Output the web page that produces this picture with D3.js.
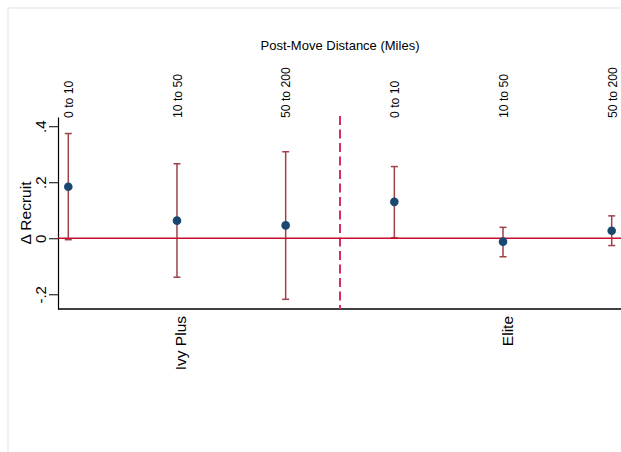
<!DOCTYPE html>
<html>
<head>
<meta charset="utf-8">
<script src="https://cdn.jsdelivr.net/npm/d3@7"></script>
<style>
  html, body { margin: 0; padding: 0; background: #fff; }
  svg { display: block; font-family: "Liberation Sans", Arial, sans-serif; }
</style>
</head>
<body>
<svg id="chart" width="621" height="452"></svg>
<script>
// Estimates by school group and post-move distance band
const groups = ["Ivy Plus", "Elite"];
const distanceBands = ["0 to 10", "10 to 50", "50 to 200"];
const estimates = [0.184, 0.063, 0.046, 0.130, -0.012, 0.027];
const ciLow  = [-0.005, -0.139, -0.218, 0.002, -0.066, -0.026];
const ciHigh = [0.374, 0.266, 0.309, 0.256, 0.039, 0.080];
const yTicks = [-0.2, 0, 0.2, 0.4];
const yTickLabels = ["-.2", "0", ".2", ".4"];

const rows = [];
groups.forEach((g, gi) => distanceBands.forEach((b, bi) => {
  const i = gi * distanceBands.length + bi;
  rows.push({ key: g + "|" + b, group: g, band: b, est: estimates[i], lo: ciLow[i], hi: ciHigh[i] });
}));

const svg = d3.select("#chart");
const W = 621, H = 452;
const plot = { left: 58, right: 621, top: 117, bottom: 309 };

// faint outer frame
svg.append("rect")
  .attr("x", 8).attr("y", 8).attr("width", W).attr("height", H)
  .attr("fill", "#fff").attr("stroke", "#e6eef1").attr("stroke-width", 1.5);

const x = d3.scalePoint()
  .domain(rows.map(d => d.key))
  .range([68.3, 611.7]);

const y = d3.scaleLinear()
  .domain([-0.2525, 0.433])
  .range([plot.bottom, plot.top]);

// y axis
const yAxis = svg.append("g")
  .attr("transform", `translate(${plot.left},0)`)
  .call(d3.axisLeft(y).tickValues(yTicks)
    .tickFormat((d, i) => yTickLabels[i]).tickSize(9).tickSizeOuter(0));
yAxis.select(".domain").attr("stroke", "#000").attr("stroke-width", 1.2);
yAxis.selectAll(".tick line").attr("stroke", "#000").attr("stroke-width", 1);
yAxis.selectAll(".tick text")
  .attr("transform", "rotate(-90)")
  .attr("x", 0).attr("y", -12)
  .attr("dy", 0)
  .attr("text-anchor", "middle")
  .attr("fill", "#000")
  .style("font-size", "15px");

// y axis title
svg.append("text")
  .attr("transform", `translate(31,${(plot.top + plot.bottom) / 2}) rotate(-90)`)
  .attr("text-anchor", "middle")
  .style("font-size", "15.5px")
  .text("\u0394 Recruit");

// bottom axis line
svg.append("line")
  .attr("x1", plot.left).attr("x2", plot.right)
  .attr("y1", plot.bottom).attr("y2", plot.bottom)
  .attr("stroke", "#000").attr("stroke-width", 1.3);

// group labels below the axis
const groupPos = groups.map((g, gi) => x(rows[gi * distanceBands.length + 1].key));
svg.selectAll(".group-label").data(groups).enter().append("text")
  .attr("class", "group-label")
  .attr("transform", (d, i) => `translate(${groupPos[i] + 9.5},316) rotate(-90)`)
  .attr("text-anchor", "end")
  .style("font-size", "15.5px")
  .text(d => d);

// top distance-band axis
const topAxis = svg.append("g")
  .attr("transform", "translate(0,118)")
  .call(d3.axisTop(x).tickSize(0).tickFormat(k => k.split("|")[1]));
topAxis.select(".domain").remove();
topAxis.selectAll(".tick text")
  .attr("transform", "rotate(-90)")
  .attr("x", 0).attr("y", 4.3).attr("dy", 0)
  .attr("text-anchor", "start")
  .attr("fill", "#000")
  .style("font-size", "12.2px");

svg.append("text")
  .attr("x", 340).attr("y", 50)
  .attr("text-anchor", "middle")
  .style("font-size", "13px")
  .text("Post-Move Distance (Miles)");

// divider between groups
const divX = (x(rows[2].key) + x(rows[3].key)) / 2;
svg.append("line")
  .attr("x1", divX).attr("x2", divX)
  .attr("y1", 116).attr("y2", plot.bottom)
  .attr("stroke", "#d42e62").attr("stroke-width", 2)
  .attr("stroke-dasharray", "9,4.5");

// confidence intervals
const cap = 3.5;
const bars = svg.append("g").attr("stroke", "#9e4149").attr("stroke-width", 1.5);
bars.selectAll(".ci").data(rows).enter().append("line")
  .attr("x1", d => x(d.key)).attr("x2", d => x(d.key))
  .attr("y1", d => y(d.lo)).attr("y2", d => y(d.hi));
bars.selectAll(".cap-hi").data(rows).enter().append("line")
  .attr("x1", d => x(d.key) - cap).attr("x2", d => x(d.key) + cap)
  .attr("y1", d => y(d.hi)).attr("y2", d => y(d.hi));
bars.selectAll(".cap-lo").data(rows).enter().append("line")
  .attr("x1", d => x(d.key) - cap).attr("x2", d => x(d.key) + cap)
  .attr("y1", d => y(d.lo)).attr("y2", d => y(d.lo));

// zero reference line
svg.append("line")
  .attr("x1", plot.left).attr("x2", plot.right)
  .attr("y1", y(0)).attr("y2", y(0))
  .attr("stroke", "#c8102e").attr("stroke-width", 1.5);

// point estimates
svg.selectAll(".pt").data(rows).enter().append("circle")
  .attr("cx", d => x(d.key)).attr("cy", d => y(d.est))
  .attr("r", 4.3)
  .attr("fill", "#1a476f");
</script>
</body>
</html>
